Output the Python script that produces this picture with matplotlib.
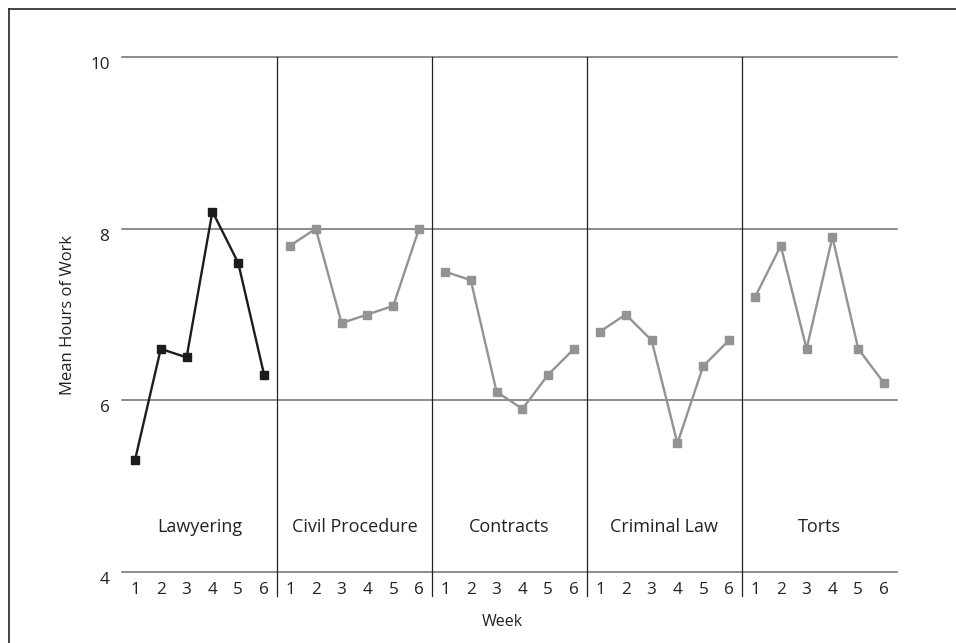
import matplotlib.pyplot as plt
import matplotlib.transforms as mtransforms
from matplotlib.lines import Line2D

plt.rcParams["font.family"] = ["Open Sans", "DejaVu Sans"]

courses = ["Lawyering", "Civil Procedure", "Contracts", "Criminal Law", "Torts"]
weeks = [1, 2, 3, 4, 5, 6]
lawyering = [5.3, 6.6, 6.5, 8.2, 7.6, 6.3]
civil_procedure = [7.8, 8.0, 6.9, 7.0, 7.1, 8.0]
contracts = [7.5, 7.4, 6.1, 5.9, 6.3, 6.6]
criminal_law = [6.8, 7.0, 6.7, 5.5, 6.4, 6.7]
torts = [7.2, 7.8, 6.6, 7.9, 6.6, 6.2]
series = [lawyering, civil_procedure, contracts, criminal_law, torts]
colors = ["#1c1c1c", "#939393", "#939393", "#939393", "#939393"]
y_ticks = [4, 6, 8, 10]

fig = plt.figure(figsize=(9.56, 6.43), dpi=100)
ax = fig.add_axes([122 / 956, 1 - 572 / 643, 775 / 956, 515 / 643])

n = len(weeks)
for p, (vals, col) in enumerate(zip(series, colors)):
    xs = [p * n + w - 0.5 for w in weeks]
    ax.plot(xs, vals, color=col, lw=1.7, marker="s", ms=5.4, zorder=3)
    ax.text(p * n + n / 2, 4.53, courses[p], ha="center", va="center", fontsize=13, color="#222222")
    if p > 0:
        ax.axvline(p * n, ymin=-0.047, ymax=1, color="#222222", lw=0.9, clip_on=False, zorder=2)

for y in y_ticks:
    ax.axhline(y, color="#6e6e6e", lw=1.1, zorder=1, clip_on=False)

ax.set_xlim(0, n * len(courses))
ax.set_ylim(4, 10)
ax.set_xticks([p * n + w - 0.5 for p in range(len(courses)) for w in weeks])
ax.set_xticklabels([str(w) for _ in courses for w in weeks])
ax.set_yticks(y_ticks)
ax.tick_params(axis="both", length=0, labelsize=12.3, colors="#222222")
ax.tick_params(axis="x", pad=7)
ax.tick_params(axis="y", pad=9)
offset = mtransforms.ScaledTranslation(0, -6 / 100, fig.dpi_scale_trans)
for lab in ax.get_yticklabels():
    lab.set_transform(lab.get_transform() + offset)
for s in ax.spines.values():
    s.set_visible(False)

ax.set_ylabel("Mean Hours of Work", fontsize=12, color="#222222", labelpad=10)
fig.text(502 / 956, 1 - 622 / 643, "Week", ha="center", va="center", fontsize=11.5, color="#222222")

# partial frame around the figure (top and left edges)
fig.add_artist(Line2D([9 / 956, 1], [1 - 9 / 643, 1 - 9 / 643], color="#222222", lw=1.2, transform=fig.transFigure))
fig.add_artist(Line2D([9 / 956, 9 / 956], [0, 1 - 9 / 643], color="#222222", lw=1.2, transform=fig.transFigure))

fig.savefig("out.png", dpi=100)
